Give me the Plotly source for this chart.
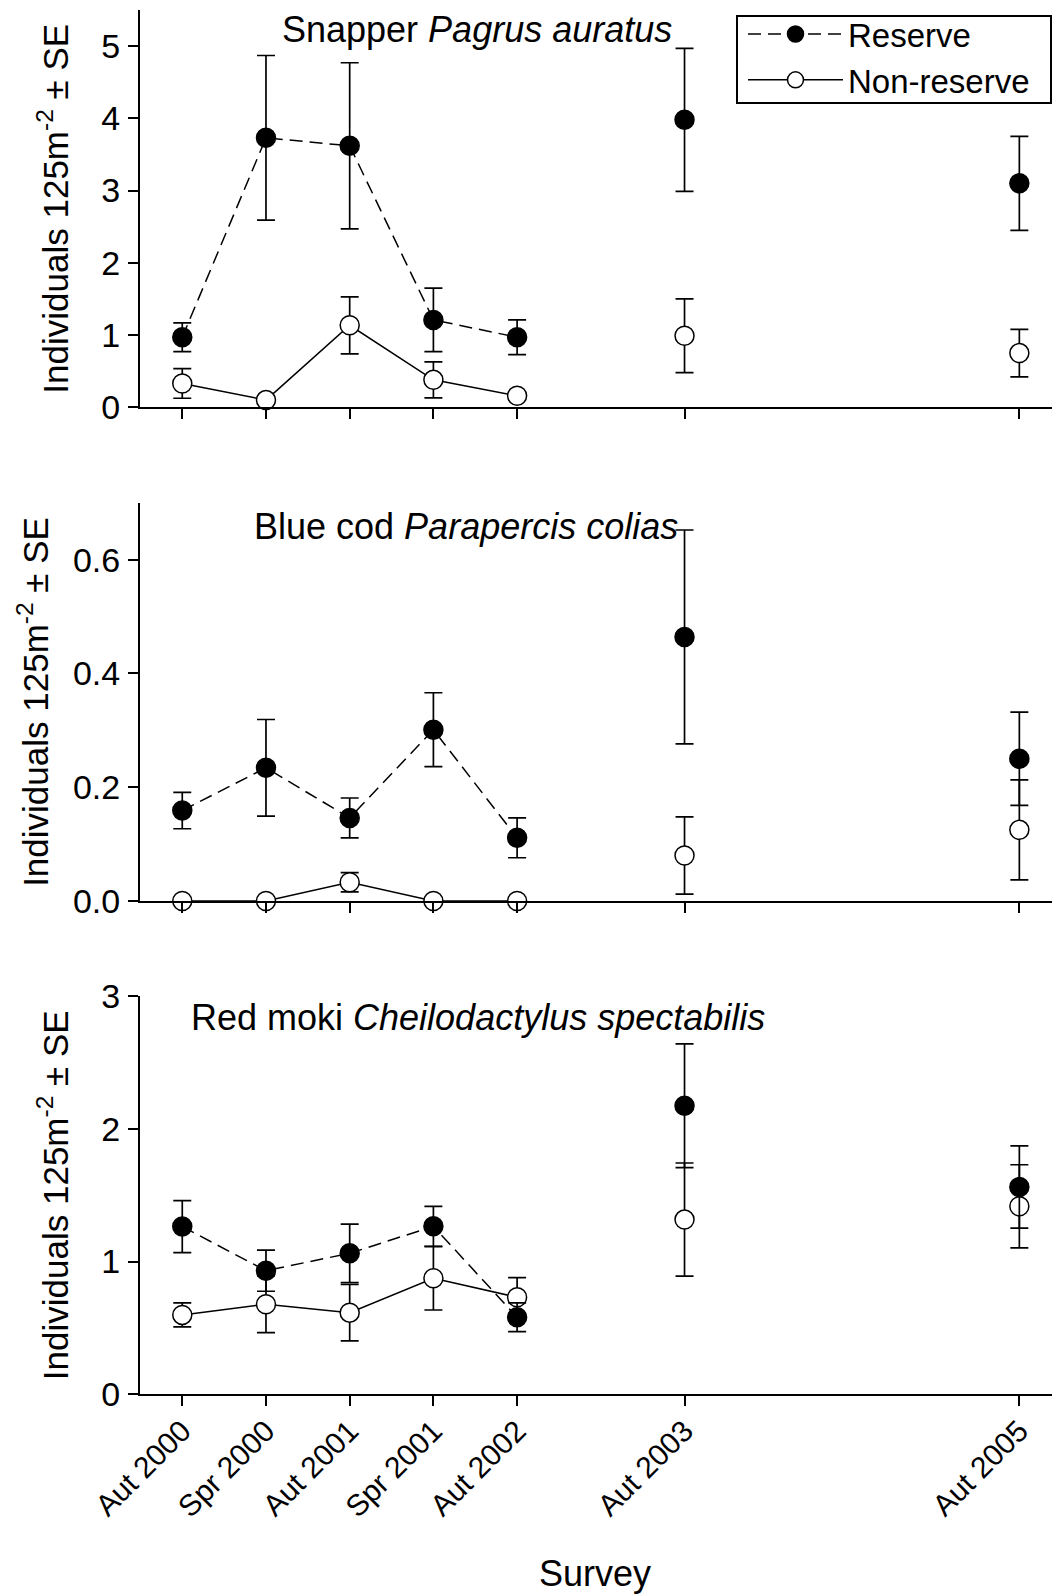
import plotly.graph_objects as go

# ---- data -------------------------------------------------------------
surveys = ["Aut 2000", "Spr 2000", "Aut 2001", "Spr 2001", "Aut 2002", "Aut 2003", "Aut 2005"]
survey_pos = [0, 1, 2, 3, 4, 6, 10]          # half-year index of each survey
n_connected = 5                               # first five surveys are joined by lines

species = ["Snapper <i>Pagrus auratus</i>",
           "Blue cod <i>Parapercis colias</i>",
           "Red moki <i>Cheilodactylus spectabilis</i>"]

snapper_res = [0.97, 3.73, 3.62, 1.21, 0.97, 3.98, 3.10]
snapper_res_se = [0.20, 1.14, 1.15, 0.44, 0.24, 0.99, 0.65]
snapper_non = [0.33, 0.10, 1.135, 0.38, 0.16, 0.99, 0.75]
snapper_non_se = [0.205, 0.04, 0.395, 0.25, 0.04, 0.51, 0.33]

bluecod_res = [0.159, 0.234, 0.146, 0.301, 0.111, 0.464, 0.250]
bluecod_res_se = [0.032, 0.085, 0.035, 0.065, 0.035, 0.188, 0.082]
bluecod_non = [0.0, 0.0, 0.033, 0.0, 0.0, 0.080, 0.125]
bluecod_non_se = [0.0, 0.0, 0.017, 0.0, 0.0, 0.068, 0.088]

redmoki_res = [1.263, 0.931, 1.062, 1.265, 0.58, 2.173, 1.561]
redmoki_res_se = [0.196, 0.155, 0.22, 0.15, 0.108, 0.466, 0.31]
redmoki_non = [0.598, 0.678, 0.615, 0.874, 0.731, 1.316, 1.416]
redmoki_non_se = [0.09, 0.214, 0.213, 0.239, 0.148, 0.426, 0.313]

y_ranges = [[0, 5.5], [0, 0.7], [0, 3]]
y_tickvals = [[0, 1, 2, 3, 4, 5], [0, 0.2, 0.4, 0.6], [0, 1, 2, 3]]
y_ticktext = [["0", "1", "2", "3", "4", "5"], ["0.0", "0.2", "0.4", "0.6"], ["0", "1", "2", "3"]]

panels = [
    (snapper_res, snapper_res_se, snapper_non, snapper_non_se),
    (bluecod_res, bluecod_res_se, bluecod_non, bluecod_non_se),
    (redmoki_res, redmoki_res_se, redmoki_non, redmoki_non_se),
]

# ---- layout geometry (pixels of the 1052 x 1594 page) ----------------
W, H = 1052, 1594
FONT = "Liberation Sans, Arial, Helvetica, sans-serif"
FS = 34
FS_TITLE = 36
FS_XTICK = 30
x_left_px = 140
panel_px = [(10, 407.3), (502.7, 901), (996, 1394.3)]   # top, bottom of each plot area

def yfrac(px):
    return 1 - px / H

fig = go.Figure()

for i, (res, res_se, non, non_se) in enumerate(panels):
    xa = "x" if i == 0 else f"x{i+1}"
    ya = "y" if i == 0 else f"y{i+1}"
    series = [
        ("Non-reserve", non, non_se, "white", "solid", 2),
        ("Reserve", res, res_se, "black", "13px,7px", 1),
    ]
    for name, vals, se, fill, dash, rank in series:
        # connected surveys
        fig.add_trace(go.Scatter(
            x=survey_pos[:n_connected], y=vals[:n_connected],
            error_y=dict(type="data", array=se[:n_connected], visible=True,
                         color="black", thickness=1.7, width=9),
            mode="lines+markers", name=name, legendrank=rank,
            showlegend=(i == 0),
            line=dict(color="black", width=1.5, dash=dash),
            marker=dict(size=19, color=fill, line=dict(color="black", width=1.5)),
            cliponaxis=False, xaxis=xa, yaxis=ya,
        ))
        # later surveys, not connected
        fig.add_trace(go.Scatter(
            x=survey_pos[n_connected:], y=vals[n_connected:],
            error_y=dict(type="data", array=se[n_connected:], visible=True,
                         color="black", thickness=1.7, width=9),
            mode="markers", name=name, showlegend=False,
            marker=dict(size=19, color=fill, line=dict(color="black", width=1.5)),
            cliponaxis=False, xaxis=xa, yaxis=ya,
        ))

axis_common = dict(showline=True, linecolor="black", linewidth=2, ticks="outside",
                   ticklen=10, tickwidth=2, tickcolor="black", showgrid=False,
                   zeroline=False, automargin=False,
                   tickfont=dict(family=FONT, size=FS, color="black"))

layout = dict(
    width=W, height=H, margin=dict(l=0, r=0, t=0, b=0, autoexpand=False),
    paper_bgcolor="white", plot_bgcolor="white",
    font=dict(family=FONT, size=FS, color="black"),
    showlegend=True,
    legend=dict(x=743 / W, y=yfrac(6), xanchor="left", yanchor="top",
                borderwidth=0, bgcolor="rgba(0,0,0,0)",
                font=dict(family=FONT, size=33, color="black"),
                itemwidth=95, tracegroupgap=0),
    shapes=[dict(type="rect", xref="paper", yref="paper",
                 x0=737 / W, x1=1051 / W, y0=yfrac(103), y1=yfrac(16),
                 line=dict(color="black", width=2), fillcolor="rgba(0,0,0,0)",
                 layer="above")],
)

x_range = [-0.505, 10.39]
for i in range(3):
    xk = "xaxis" if i == 0 else f"xaxis{i+1}"
    yk = "yaxis" if i == 0 else f"yaxis{i+1}"
    top, bot = panel_px[i]
    xa_cfg = dict(axis_common, domain=[x_left_px / W, 1.0], range=x_range,
                  tickvals=survey_pos, showticklabels=(i == 2), tickangle=-45,
                  anchor="y" if i == 0 else f"y{i+1}")
    if i == 2:
        xa_cfg["ticktext"] = surveys
        xa_cfg["tickfont"] = dict(family=FONT, size=FS_XTICK, color="black")
        xa_cfg["ticklabelstandoff"] = -5
    layout[xk] = xa_cfg
    layout[yk] = dict(axis_common, domain=[yfrac(bot), yfrac(top)], range=y_ranges[i],
                      tickvals=y_tickvals[i], ticktext=y_ticktext[i],
                      ticklabelstandoff=1,
                      anchor="x" if i == 0 else f"x{i+1}")

fig.update_layout(**layout)

# ---- text --------------------------------------------------------------
nb = "\u00a0"
ytitle = f"Individuals{nb}125m<sup>-2</sup>{nb}±{nb}SE"
ytitle_x = [53, 33, 53]
title_pos = [(280, 29.2), (251.7, 526.7), (189.3, 1017.2)]
for i in range(3):
    top, bot = panel_px[i]
    fig.add_annotation(text=ytitle, xref="paper", yref="paper",
                       x=ytitle_x[i] / W, y=yfrac((top + bot) / 2),
                       xanchor="center", yanchor="middle", textangle=-90,
                       showarrow=False, font=dict(family=FONT, size=35, color="black"))
    tx, ty = title_pos[i]
    fig.add_annotation(text=species[i], xref="paper", yref="paper",
                       x=tx / W, y=yfrac(ty), xanchor="left", yanchor="middle",
                       showarrow=False, font=dict(family=FONT, size=FS_TITLE, color="black"))

fig.add_annotation(text="Survey", xref="paper", yref="paper",
                   x=594.5 / W, y=yfrac(1573), xanchor="center", yanchor="middle",
                   showarrow=False, font=dict(family=FONT, size=FS_TITLE, color="black"))

fig.write_html("out.html")
